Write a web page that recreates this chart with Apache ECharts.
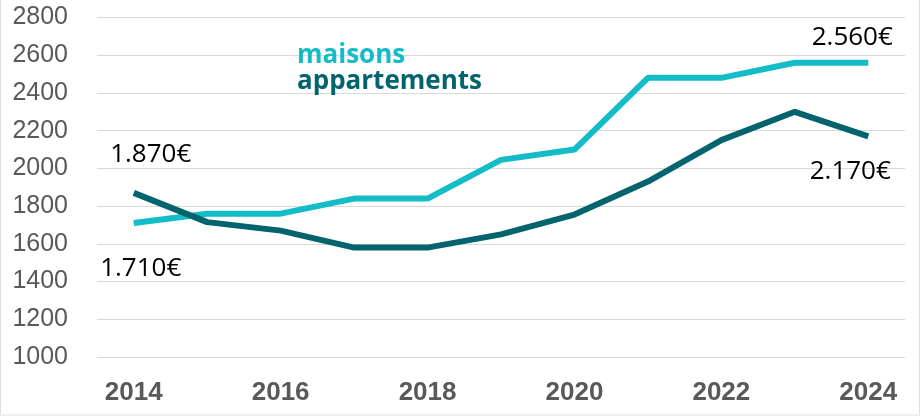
<!DOCTYPE html>
<html><head><meta charset="utf-8">
<script src="https://cdn.jsdelivr.net/npm/echarts@6/dist/echarts.min.js"></script>
<style>html,body{margin:0;padding:0;background:#fff}#c{width:921px;height:417px}</style>
</head><body><div id="c"></div>
<script>
const years = ['2014','2015','2016','2017','2018','2019','2020','2021','2022','2023','2024'];
const maisons = [1710,1760,1760,1840,1840,2045,2100,2480,2480,2560,2560];
const appartements = [1870,1715,1670,1580,1580,1650,1755,1930,2150,2300,2170];
const yTicks = {min:1000, max:2800, interval:200};
const labelStyle = {show:true, color:'#000', fontSize:26, fontWeight:500, fontFamily:'Open Sans'};

function withLabels(arr, labels){
  return arr.map((v,i)=> labels[i] ? {value:v, label:Object.assign({}, labelStyle, labels[i])} : v);
}
const fmt = v => (v/1000).toFixed(3) + '€';

const chart = echarts.init(document.getElementById('c'));
chart.setOption({
  animation:false,
  grid:{left:97, right:16, top:17.5, bottom:60},
  legend:{
    orient:'vertical', left:287, top:38, icon:'none', itemWidth:0, itemHeight:14, itemGap:0,
    selectedMode:false,
    data:[
      {name:'maisons', textStyle:{color:'#14BCC7'}},
      {name:'appartements', textStyle:{color:'#04646D'}}
    ],
    textStyle:{fontSize:26, fontWeight:'bold', fontFamily:'Open Sans', lineHeight:23}
  },
  xAxis:{
    type:'category', data:years, boundaryGap:true,
    axisLine:{show:false}, axisTick:{show:false},
    axisLabel:{interval:1, color:'#595959', fontSize:26, fontWeight:'bold', fontFamily:'Liberation Sans', margin:23}
  },
  yAxis:{
    type:'value', min:yTicks.min, max:yTicks.max, interval:yTicks.interval,
    axisLine:{show:false}, axisTick:{show:false},
    splitLine:{lineStyle:{color:'#D9D9D9', width:1}},
    axisLabel:{color:'#595959', fontSize:25, fontFamily:'Liberation Sans', margin:29, formatter:v=>String(v)}
  },
  series:[
    {name:'maisons', type:'line', showSymbol:true, symbol:'circle', symbolSize:0,
     lineStyle:{color:'#14BCC7', width:6}, itemStyle:{color:'#14BCC7'},
     data: withLabels(maisons, {0:{position:'bottom', offset:[7,28], formatter:()=>fmt(maisons[0])},
                                10:{position:'top', offset:[-16,-7], formatter:()=>fmt(maisons[10])}})},
    {name:'appartements', type:'line', showSymbol:true, symbol:'circle', symbolSize:0,
     lineStyle:{color:'#04646D', width:6}, itemStyle:{color:'#04646D'},
     data: withLabels(appartements, {0:{position:'top', offset:[17,-20], formatter:()=>fmt(appartements[0])},
                                     10:{position:'bottom', offset:[-18,17], formatter:()=>fmt(appartements[10])}})}
  ],
  graphic:[{type:'rect', shape:{x:0.5,y:-2,width:919,height:417}, style:{fill:'none', stroke:'#E0E0E0', lineWidth:1}, silent:true}]
});
</script></body></html>
